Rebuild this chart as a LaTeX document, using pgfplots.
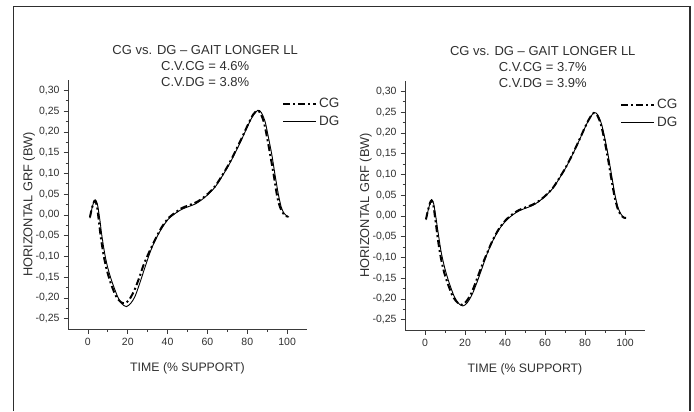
\documentclass[border=0pt]{standalone}
\usepackage{fontspec}
\setmainfont{Liberation Sans}
\usepackage{pgfplots}
\pgfplotsset{compat=1.18}
\definecolor{txt}{HTML}{2F2F2F}
\definecolor{axisc}{HTML}{3A3A3A}
\definecolor{frame}{HTML}{2E2E2E}

\pgfplotsset{
  gait/.style={
    scale only axis,
    width=239bp, height=249bp,
    xmin=-10, xmax=110, ymin=-0.275, ymax=0.325,
    axis x line*=bottom, axis y line*=left,
    axis line style={draw=axisc, line width=0.9bp},
    tick align=outside,
    major tick length=4.5bp, minor tick length=2.5bp,
    tick style={draw=axisc, line width=0.7bp},
    xtick={0,20,40,60,80,100},
    xticklabels={0,20,40,60,80,100},
    ytick={-0.25,-0.2,-0.15,-0.1,-0.05,0,0.05,0.1,0.15,0.2,0.25,0.3},
    yticklabels={{-0,25},{-0,20},{-0,15},{-0,10},{-0,05},{0,00},{0,05},{0,10},{0,15},{0,20},{0,25},{0,30}},
    minor x tick num=1, minor y tick num=1,
    tick label style={font=\fontsize{10.5bp}{12bp}\selectfont, text=txt},
    xticklabel style={yshift=-1bp},
    yticklabel style={xshift=-0.5bp},
    xlabel={TIME (\% SUPPORT)},
    ylabel={HORIZONTAL GRF (BW)},
    every axis x label/.style={at={(axis description cs:0.5,-0.157)}, anchor=center,
      font=\fontsize{12.3bp}{14bp}\selectfont, text=txt},
    every axis y label/.style={at={(axis description cs:-0.163,0.5)}, rotate=90, anchor=center,
      font=\fontsize{12.8bp}{14bp}\selectfont, text=txt},
    title style={font=\fontsize{13bp}{15.8bp}\selectfont, text=txt, align=center,
      at={(axis description cs:0.574,1.032)}, anchor=center},
    legend style={draw=none, fill=none, text=txt,
      font=\fontsize{13.5bp}{15bp}\selectfont,
      at={(axis description cs:0.895,0.935)}, anchor=north west,
      row sep=3bp, inner sep=0pt,
      cells={anchor=west}},
    legend image code/.code={\draw[#1] (0bp,0bp) -- (33bp,0bp);},
    clip=false
  },
  cgline/.style={black, line width=2bp, dash pattern=on 7bp off 3bp on 2bp off 3bp, smooth},
  dgline/.style={black, line width=0.9bp, smooth}
}

\begin{document}
\begin{tikzpicture}[x=1bp,y=1bp]
  \useasboundingbox (0,0) rectangle (694,411);
  \draw[frame, line width=1.1bp] (13.5,0) -- (13.5,404.5) -- (690,404.5) -- (690,0);

  % left panel
  \begin{axis}[gait, at={(68bp,82bp)}, anchor=south west,
    title={CG vs. DG -- GAIT LONGER LL\\C.V.CG = 4.6\%\\C.V.DG = 3.8\%}]
    \addplot[cgline] coordinates {
      (1,-0.006) (2,0.016) (3,0.031) (3.6,0.034) (4.5,0.022) (5.5,-0.015)
      (6.5,-0.055) (8,-0.100) (9.5,-0.133) (11.5,-0.165) (14,-0.195)
      (16.5,-0.210) (18.5,-0.213) (20.5,-0.206) (23,-0.185) (25.5,-0.155)
      (28,-0.120) (31,-0.087) (33.7,-0.060) (37,-0.030) (40.4,-0.008)
      (44,0.006) (47,0.016) (50,0.022) (53.8,0.029) (57,0.038) (60.5,0.052)
      (64,0.070) (67,0.092) (70.5,0.120) (74,0.153) (77.5,0.188) (80.6,0.220)
      (83,0.242) (85,0.251) (86.5,0.246) (88.3,0.224) (90,0.185) (91.7,0.140)
      (93.5,0.090) (95,0.045) (96.5,0.018) (98,0.004) (99.5,-0.003) (100.5,-0.004)
    };
    \addlegendentry{CG}
    \addplot[dgline] coordinates {
      (1,-0.008) (2,0.015) (3,0.032) (3.8,0.036) (4.8,0.025) (6,-0.012)
      (7,-0.050) (8.5,-0.095) (10,-0.128) (12,-0.160) (15,-0.198) (17,-0.214)
      (19.3,-0.221) (21.5,-0.213) (23.6,-0.197) (26,-0.165) (28.6,-0.127)
      (31,-0.093) (33.7,-0.062) (37,-0.033) (40.4,-0.010) (44,0.004) (47,0.013)
      (50,0.019) (53.8,0.026) (57,0.036) (60.5,0.050) (64,0.068) (67,0.090)
      (70.5,0.118) (74,0.150) (77.5,0.185) (80.6,0.218) (83,0.240) (85.3,0.252)
      (87,0.247) (88.9,0.226) (90.5,0.190) (92.3,0.146) (94,0.095) (95.6,0.050)
      (97,0.020) (98.3,0.005) (100,-0.003) (101,-0.005)
    };
    \addlegendentry{DG}
  \end{axis}

  % right panel
  \begin{axis}[gait, at={(405bp,81bp)}, anchor=south west, width=240bp,
    title={CG vs. DG -- GAIT LONGER LL\\C.V.CG = 3.7\%\\C.V.DG = 3.9\%}]
    \addplot[cgline] coordinates {
      (0.5,-0.008) (1.5,0.014) (2.5,0.031) (3.2,0.037) (4.1,0.028) (5.2,-0.010)
      (6.4,-0.055) (7.8,-0.098) (9.5,-0.135) (11.5,-0.165) (14,-0.195)
      (16.5,-0.210) (18.6,-0.214) (20.5,-0.207) (23,-0.188) (25.5,-0.158)
      (28.2,-0.123) (31,-0.090) (33.7,-0.060) (37,-0.031) (40.4,-0.010)
      (44,0.005) (47,0.014) (50,0.020) (53.8,0.027) (57,0.036) (60.5,0.050)
      (64,0.068) (67,0.090) (70.5,0.118) (74,0.151) (77.5,0.187) (80.6,0.220)
      (83,0.241) (84.4,0.248) (86,0.243) (87.9,0.221) (89.7,0.183) (91.5,0.137)
      (93.2,0.088) (94.8,0.046) (96.3,0.018) (97.8,0.003) (99.3,-0.004) (100.5,-0.005)
    };
    \addlegendentry{CG}
    \addplot[dgline] coordinates {
      (0.5,-0.010) (1.5,0.012) (2.5,0.030) (3.3,0.039) (4.3,0.030) (5.5,-0.005)
      (6.8,-0.048) (8.2,-0.090) (10,-0.128) (12,-0.160) (14.5,-0.193)
      (16.8,-0.211) (18.9,-0.217) (21,-0.210) (23.5,-0.190) (26,-0.160)
      (28.6,-0.125) (31,-0.092) (33.7,-0.062) (37,-0.033) (40.4,-0.012)
      (44,0.003) (47,0.012) (50,0.018) (53.8,0.025) (57,0.035) (60.5,0.049)
      (64,0.067) (67,0.089) (70.5,0.117) (74,0.150) (77.5,0.186) (80.6,0.219)
      (83,0.240) (84.6,0.249) (86.3,0.244) (88.2,0.222) (90,0.185) (91.8,0.140)
      (93.5,0.092) (95,0.050) (96.5,0.020) (98,0.004) (99.5,-0.004) (100.5,-0.006)
    };
    \addlegendentry{DG}
  \end{axis}
\end{tikzpicture}
\end{document}
